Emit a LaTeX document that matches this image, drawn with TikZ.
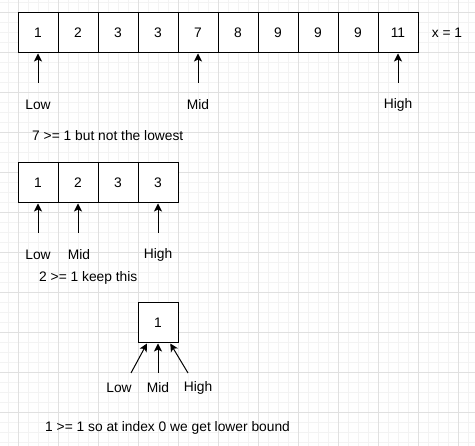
\documentclass[tikz,border=0pt]{standalone}
\usepackage{fontspec}
\setmainfont{Liberation Sans}
\usetikzlibrary{arrows.meta}
\definecolor{gridmajor}{RGB}{224,224,224}
\definecolor{gridminor}{RGB}{243,243,243}

\begin{document}
\begin{tikzpicture} [x=1pt, y=-1pt,
  cell/.style={draw, line width=1pt, minimum size=40pt, inner sep=0pt, font=\fontsize{13.8}{16}\selectfont},
  lbl/.style={font=\fontsize{13.8}{16}\selectfont, inner sep=1pt},
  ptr/.style={-{Stealth[length=8pt, width=8pt, inset=2pt]}, line width=1pt}]
\useasboundingbox (0,0) rectangle (475,446);
\foreach \x in {8,18,...,468} \draw[gridminor, line width=1pt] (\x,0)--(\x,446);
\foreach \y in {3,13,...,443} \draw[gridminor, line width=1pt] (0,\y)--(475,\y);
\foreach \x in {18,58,...,458} \draw[gridmajor, line width=1pt] (\x,0)--(\x,446);
\foreach \y in {13,53,...,413} \draw[gridmajor, line width=1pt] (0,\y)--(475,\y);

% first search
\foreach \v [count=\i] in {1,2,3,3,7,8,9,9,9,11} \node[cell, fill=white] (a\i) at (40*\i-2,33) {\v};
\node[lbl] (xval) at (447,33) {x = 1};
\node[lbl] (lowA) at (38,105) {Low};
\node[lbl] (midA) at (198,105) {Mid};
\node[lbl] (highA) at (398,105) {High};
\coordinate (tlowA) at (38,83);
\coordinate (tmidA) at (198,83);
\coordinate (thighA) at (398,83);
\draw[ptr] (tlowA)--(a1);
\draw[ptr] (tmidA)--(a5);
\draw[ptr] (thighA)--(a10);
\node[lbl, anchor=west] (noteA) at (31,136) {7 >= 1 but not the lowest};

% second search
\foreach \v [count=\i] in {1,2,3,3} \node[cell, fill=white] (b\i) at (40*\i-2,183) {\v};
\node[lbl] (lowB) at (38,255) {Low};
\node[lbl] (midB) at (79,255) {Mid};
\node[lbl] (highB) at (158,255) {High};
\coordinate (tlowB) at (38,233);
\coordinate (tmidB) at (78,233);
\coordinate (thighB) at (158,233);
\draw[ptr] (tlowB)--(b1);
\draw[ptr] (tmidB)--(b2);
\draw[ptr] (thighB)--(b4);
\node[lbl, anchor=west] (noteB) at (38,278) {2 >= 1 keep this};

% last step
\node[cell, fill=white] (c1) at (158,323) {1};
\node[lbl] (lowC) at (119,388) {Low};
\node[lbl] (midC) at (158,388) {Mid};
\node[lbl] (highC) at (198,388) {High};
\coordinate (tlowC) at (131,373);
\coordinate (tmidC) at (158,373);
\coordinate (thighC) at (188,373);
\draw[ptr] (tlowC)--(c1);
\draw[ptr] (tmidC)--(c1);
\draw[ptr] (thighC)--(c1);
\node[lbl, anchor=west] (noteC) at (44,428) {1 >= 1 so at index 0 we get lower bound};
\end{tikzpicture}
\end{document}
